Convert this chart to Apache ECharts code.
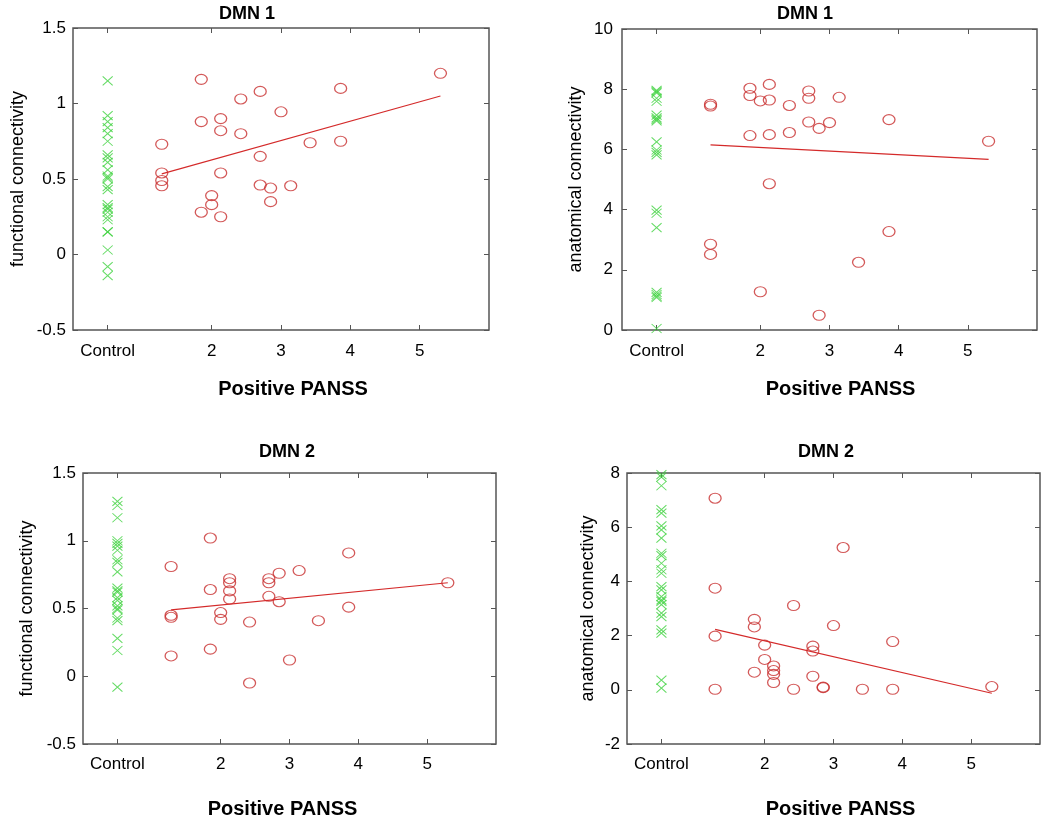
<!DOCTYPE html>
<html>
<head>
<meta charset="utf-8">
<title>DMN connectivity vs Positive PANSS</title>
<script src="https://cdn.jsdelivr.net/npm/echarts@6/dist/echarts.min.js"></script>
<style>
html,body{margin:0;padding:0;background:#fff;}
#chart{width:1050px;height:828px;}
</style>
</head>
<body>
<div id="chart"></div>
<script>
// x ticks: the controls sit at 0.5 and get the label "Control"
var xTicks = [0.5, 2, 3, 4, 5];
var controlX = 0.5;

// Positive PANSS of the patients (same order in all panels)
var patientX = [1.28, 1.28, 1.28, 1.28, 1.85, 1.85, 1.85, 2.0, 2.0, 2.13, 2.13, 2.13, 2.13,
    2.42, 2.42, 2.70, 2.70, 2.70, 2.85, 2.85, 3.0, 3.14, 3.42, 3.86, 3.86, 5.3];

// patients
var funcDmn1 = [0.73, 0.54, 0.49, 0.455, 1.16, 0.88, 0.28, 0.39, 0.33, 0.90, 0.82, 0.54, 0.25,
    1.03, 0.80, 1.08, 0.65, 0.46, 0.44, 0.35, 0.945, 0.455, 0.74, 1.10, 0.75, 1.20];
var anatDmn1 = [7.50, 7.44, 2.85, 2.51, 8.03, 7.79, 6.46, 7.61, 1.27, 8.16, 7.64, 6.49, 4.86,
    7.46, 6.56, 7.94, 7.70, 6.91, 6.70, 0.49, 6.89, 7.73, 2.25, 6.99, 3.27, 6.27];
var funcDmn2 = [0.81, 0.45, 0.435, 0.15, 1.02, 0.64, 0.20, 0.47, 0.42, 0.72, 0.69, 0.63, 0.57,
    0.40, -0.05, 0.72, 0.69, 0.59, 0.76, 0.55, 0.12, 0.78, 0.41, 0.91, 0.51, 0.69];
var anatDmn2 = [7.07, 3.75, 1.98, 0.02, 2.60, 2.32, 0.65, 1.65, 1.12, 0.88, 0.71, 0.57, 0.27,
    3.11, 0.02, 1.61, 1.43, 0.50, 0.10, 0.08, 2.37, 5.25, 0.02, 1.78, 0.02, 0.12];

// controls
var ctrlFunc1 = [1.15, 0.92, 0.88, 0.84, 0.80, 0.75, 0.66, 0.64, 0.61, 0.56, 0.52, 0.51, 0.50,
    0.45, 0.43, 0.33, 0.31, 0.30, 0.28, 0.25, 0.23, 0.15, 0.15, 0.03, -0.08, -0.14];
var ctrlAnat1 = [7.96, 7.92, 7.88, 7.70, 7.60, 7.14, 7.05, 7.00, 6.95, 6.25, 5.98, 5.90, 5.82,
    3.98, 3.88, 3.40, 1.25, 1.18, 1.12, 1.08, 0.05];
var ctrlFunc2 = [1.29, 1.26, 1.17, 1.00, 0.98, 0.96, 0.93, 0.86, 0.84, 0.77, 0.65, 0.63, 0.62,
    0.58, 0.56, 0.52, 0.50, 0.49, 0.43, 0.41, 0.28, 0.19, -0.08];
var ctrlAnat2 = [7.94, 7.85, 7.53, 6.65, 6.52, 6.05, 5.90, 5.60, 5.04, 4.95, 4.67, 4.43, 4.30,
    3.81, 3.69, 3.44, 3.32, 3.26, 3.14, 2.83, 2.70, 2.21, 2.09, 0.36, 0.06];

// regression lines (end points)
var fit1 = [[1.28, 0.534], [5.3, 1.05]];
var fit2 = [[1.28, 6.15], [5.3, 5.67]];
var fit3 = [[1.28, 0.49], [5.3, 0.69]];
var fit4 = [[1.28, 2.23], [5.3, -0.13]];

// y ranges [min, max, step]
var yFunc = [-0.5, 1.5, 0.5];
var yAnat1 = [0, 10, 2];
var yAnat2 = [-2, 8, 2];

var titles = ['DMN 1', 'DMN 1', 'DMN 2', 'DMN 2'];
var yNames = ['functional connectivity', 'anatomical connectivity', 'functional connectivity', 'anatomical connectivity'];

var chart = echarts.init(document.getElementById('chart'));

var FONT = "'Liberation Sans', Arial, Helvetica, sans-serif";
var frame = '#555';

var grids = [
    {left: 73, top: 28, width: 416, height: 302},
    {left: 622, top: 29, width: 415, height: 301},
    {left: 83, top: 473, width: 413, height: 271},
    {left: 627, top: 473, width: 413, height: 271}
];
var titlePos = [[214, 0], [772, 0], [254, 438], [793, 438]];
var yNameGap = [46, 37, 47, 30];
var xNameGap = [49, 55];
var xNamePad = [[0, 0, 0, 24], [0, 0, 0, 22], [0, 14, 0, 0], [0, 0, 0, 14]];
var xLabelMargin = [13, 12];
var yLabelMargin = [7, 9, 7, 7];

var panels = [
    {y: funcDmn1, ctrl: ctrlFunc1, fit: fit1, range: yFunc},
    {y: anatDmn1, ctrl: ctrlAnat1, fit: fit2, range: yAnat1},
    {y: funcDmn2, ctrl: ctrlFunc2, fit: fit3, range: yFunc},
    {y: anatDmn2, ctrl: ctrlAnat2, fit: fit4, range: yAnat2}
];

var xAxes = [], yAxes = [], series = [], title = [];

panels.forEach(function (p, i) {
    var g = grids[i];
    g.show = true;
    g.borderColor = frame;
    g.borderWidth = 1.5;
    g.containLabel = false;

    title.push({
        text: titles[i],
        left: titlePos[i][0], top: titlePos[i][1],
        textStyle: {fontFamily: FONT, fontSize: 18, fontWeight: 'bold', color: '#000'}
    });

    ['bottom', 'top'].forEach(function (pos) {
        xAxes.push({
            type: 'value', gridIndex: i, position: pos,
            min: 0, max: 6,
            name: pos === 'bottom' ? 'Positive PANSS' : '',
            nameLocation: 'middle',
            nameGap: xNameGap[i < 2 ? 0 : 1],
            nameTextStyle: {fontFamily: FONT, fontSize: 20, fontWeight: 'bold', color: '#000', padding: xNamePad[i]},
            axisLine: {show: false, onZero: false},
            splitLine: {show: false},
            axisTick: {show: true, inside: true, length: 5, customValues: xTicks, lineStyle: {color: frame, width: 1}},
            axisLabel: {
                show: pos === 'bottom', customValues: xTicks,
                margin: xLabelMargin[i < 2 ? 0 : 1],
                fontFamily: FONT, fontSize: 17, color: '#000',
                formatter: function (v) { return v === controlX ? 'Control' : String(v); }
            }
        });
    });

    ['left', 'right'].forEach(function (pos) {
        yAxes.push({
            type: 'value', gridIndex: i, position: pos,
            min: p.range[0], max: p.range[1], interval: p.range[2],
            name: pos === 'left' ? yNames[i] : '',
            nameLocation: 'middle',
            nameGap: yNameGap[i],
            nameTextStyle: {fontFamily: FONT, fontSize: 18, color: '#000'},
            axisLine: {show: false, onZero: false},
            splitLine: {show: false},
            axisTick: {show: true, inside: true, length: 5, lineStyle: {color: frame, width: 1}},
            axisLabel: {show: pos === 'left', margin: yLabelMargin[i], fontFamily: FONT, fontSize: 17, color: '#000'}
        });
    });

    series.push({
        type: 'scatter', name: 'control', xAxisIndex: i * 2, yAxisIndex: i * 2,
        data: p.ctrl.map(function (v) { return [controlX, v]; }),
        symbol: 'path://M0,0L10,10M10,0L0,10',
        symbolSize: [10, 9],
        itemStyle: {color: 'rgba(0,0,0,0)', borderColor: '#3fd23f', borderWidth: 1},
        silent: true
    });
    series.push({
        type: 'scatter', name: 'patient', xAxisIndex: i * 2, yAxisIndex: i * 2,
        data: patientX.map(function (x, k) { return [x, p.y[k]]; }),
        symbol: 'circle',
        symbolSize: [12, 10],
        itemStyle: {color: 'rgba(0,0,0,0)', borderColor: '#c8302f', borderWidth: 1.2},
        silent: true
    });
    series.push({
        type: 'line', name: 'fit', xAxisIndex: i * 2, yAxisIndex: i * 2,
        data: p.fit, symbol: 'none',
        lineStyle: {color: '#d42a2a', width: 1.1},
        silent: true
    });
});

chart.setOption({
    backgroundColor: '#fff',
    animation: false,
    title: title,
    grid: grids,
    xAxis: xAxes,
    yAxis: yAxes,
    series: series
});
</script>
</body>
</html>
